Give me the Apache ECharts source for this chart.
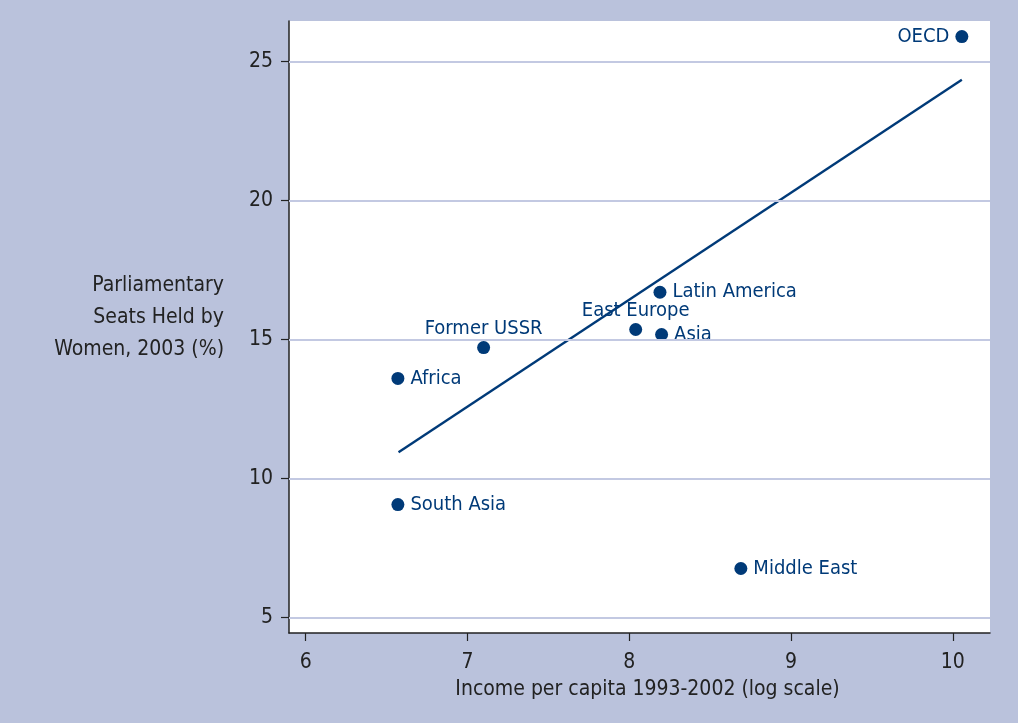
<!DOCTYPE html>
<html>
<head>
<meta charset="utf-8">
<script src="https://cdn.jsdelivr.net/npm/echarts@6/dist/echarts.min.js"></script>
<style>
  html, body { margin: 0; padding: 0; background: #bac2dc; }
  #chart { width: 1018px; height: 723px; }
</style>
</head>
<body>
<div id="chart"></div>
<script>
// Regions: log income per capita vs. share of parliamentary seats held by women
const regions = ['OECD', 'Latin America', 'East Europe', 'Asia', 'Former USSR', 'Africa', 'South Asia', 'Middle East'];
const logIncome = [10.056, 8.19, 8.04, 8.20, 7.10, 6.57, 6.57, 8.69];
const seatsPct = [25.9, 16.7, 15.36, 15.18, 14.71, 13.6, 9.06, 6.76];
const labelSide = ['left', 'right', 'top', 'right', 'top', 'right', 'right', 'right'];

// Fitted regression line endpoints
const fitX = [6.574, 10.056];
const fitY = [10.94, 24.35];

const xTicks = [6, 7, 8, 9, 10];
const yTicks = [5, 10, 15, 20, 25];

const navy = '#003a78';
const font = '"Liberation Sans Narrow", "DejaVu Sans Condensed", "Liberation Sans", sans-serif';

const points = regions.map((name, i) => ({
  name: name,
  value: [logIncome[i], seatsPct[i]],
  label: { position: labelSide[i], distance: labelSide[i] === 'top' ? 2 : 6 }
}));

const chart = echarts.init(document.getElementById('chart'));
chart.setOption({
  backgroundColor: '#bac2dc',
  animation: false,
  grid: { left: 289, right: 28, top: 21, bottom: 90, show: true, backgroundColor: '#ffffff', borderWidth: 0 },
  xAxis: {
    type: 'value', min: 5.897, max: 10.23,
    axisLine: { show: true, onZero: false, lineStyle: { color: '#222', width: 1.5 } },
    axisTick: { show: true, customValues: xTicks, length: 8, lineStyle: { color: '#222', width: 1.2 } },
    axisLabel: { customValues: xTicks, color: '#222', fontSize: 21, fontFamily: font, margin: 19 },
    splitLine: { show: false },
    name: 'Income per capita 1993-2002 (log scale)',
    nameLocation: 'middle', nameGap: 46,
    nameTextStyle: { color: '#222', fontSize: 21, fontFamily: font, padding: [0, 0, 0, 16] }
  },
  yAxis: {
    type: 'value', min: 4.44, max: 26.46,
    axisLine: { show: true, onZero: false, lineStyle: { color: '#222', width: 1.5 } },
    axisTick: { show: true, customValues: yTicks, length: 8, lineStyle: { color: '#222', width: 1.2 } },
    axisLabel: { customValues: yTicks, color: '#222', fontSize: 21, fontFamily: font, margin: 16 },
    splitLine: { show: false }
  },
  graphic: [{
    type: 'text', right: 1018 - 224, top: 270,
    style: {
      text: 'Parliamentary\nSeats Held by\nWomen, 2003 (%)',
      fill: '#222', font: '21px ' + font, textAlign: 'right', lineHeight: 32
    }
  }],
  series: [
    {
      type: 'line', silent: true, symbol: 'none',
      data: [],
      markLine: {
        silent: true, symbol: 'none', label: { show: false },
        lineStyle: { color: '#c3c9e2', width: 2, type: 'solid' },
        data: yTicks.map(v => ({ yAxis: v }))
      }
    },
    {
      type: 'line', symbol: 'none', silent: true,
      data: fitX.map((x, i) => [x, fitY[i]]),
      lineStyle: { color: navy, width: 2.4 }, z: 3
    },
    {
      type: 'scatter', symbolSize: 13, z: 4,
      itemStyle: { color: navy, opacity: 1 },
      data: points,
      label: { show: true, formatter: '{b}', color: navy, fontSize: 20, fontFamily: font }
    }
  ]
});
</script>
</body>
</html>
